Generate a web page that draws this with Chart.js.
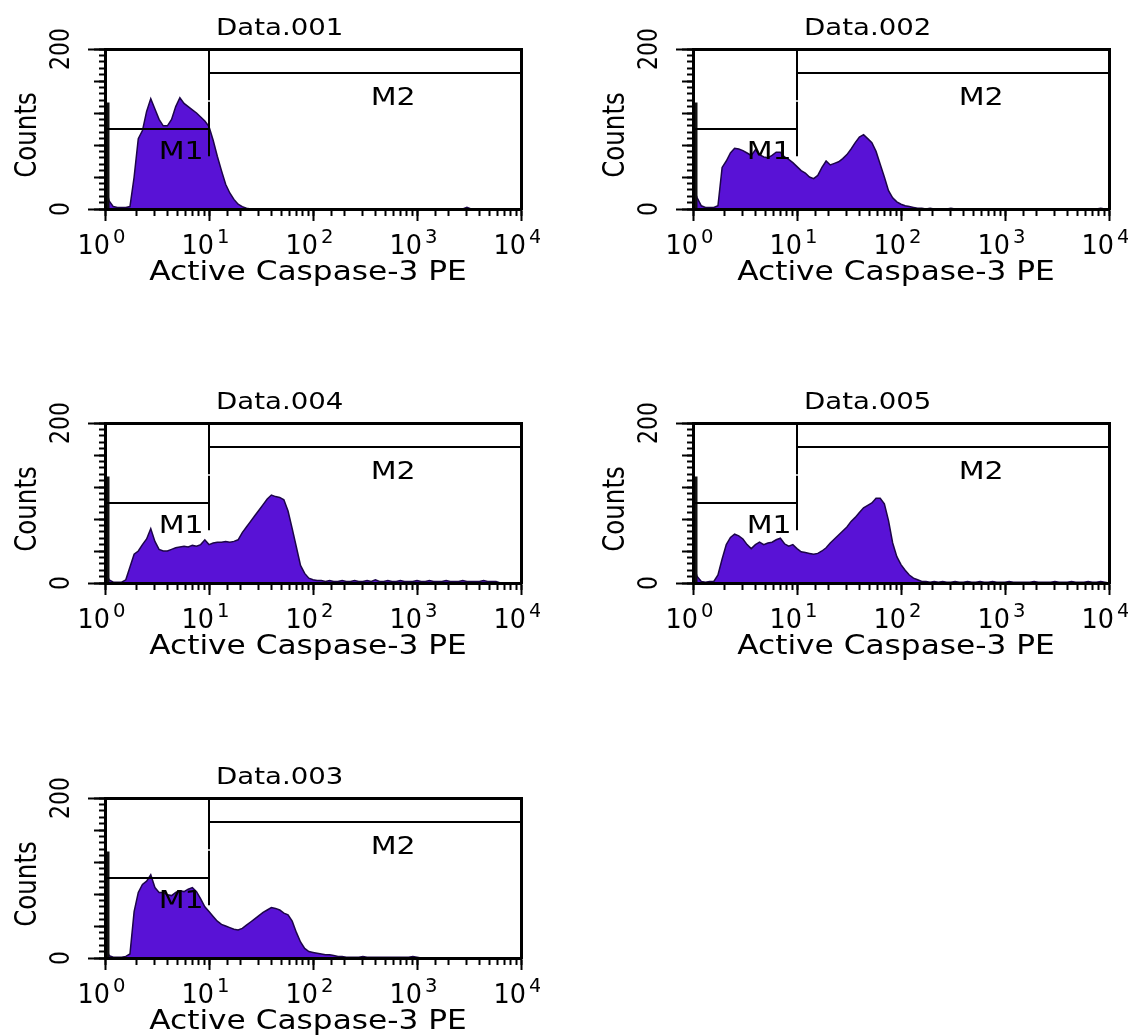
<!DOCTYPE html>
<html>
<head>
<meta charset="utf-8">
<title>Active Caspase-3 PE histograms</title>
<script src="https://cdn.jsdelivr.net/npm/chart.js@4.4.1/dist/chart.umd.min.js"></script>
<style>
  html, body { margin: 0; padding: 0; background: #fff; overflow: hidden; }
  #page { position: relative; width: 1131px; height: 1035px; }
  #page canvas { position: absolute; }
</style>
</head>
<body>
<div id="page">
  <canvas id="c001" width="540" height="300" style="left:0;top:0"></canvas>
  <canvas id="c002" width="540" height="300" style="left:588px;top:0"></canvas>
  <canvas id="c004" width="540" height="300" style="left:0;top:374px"></canvas>
  <canvas id="c005" width="540" height="300" style="left:588px;top:374px"></canvas>
  <canvas id="c003" width="540" height="300" style="left:0;top:749px"></canvas>
</div>
<script>
const FONT = '"DejaVu Sans", Verdana, sans-serif';
// the scanned figure is stretched sideways, so its lettering is wider than tall
const TEXT_STRETCH = 1.2;

// histogram channels: one value every 0.04 decade, from 10^0 to 10^4
const EXP_STEP = 0.04;

const COUNTS_001 = [
  30, 10, 3, 2, 2, 2, 3, 40, 88, 98,
  122, 138, 125, 112, 104, 104, 112, 128, 139, 132,
  128, 124, 120, 115, 110, 103, 86, 66, 48, 31,
  20, 12, 6, 3, 1, 0, 0, 0, 0, 0,
  0, 0, 0, 0, 0, 0, 0, 0, 0, 0,
  0, 0, 0, 0, 0, 0, 0, 0, 0, 0,
  0, 0, 0, 0, 0, 0, 0, 0, 0, 0,
  0, 0, 0, 0, 0, 0, 0, 0, 0, 0,
  0, 0, 0, 0, 0, 0, 0, 2, 0, 0,
  0, 0, 0, 0, 0, 0, 0, 0, 0, 0,
  0];

const COUNTS_002 = [
  28, 14, 4, 2, 2, 2, 4, 52, 60, 70,
  76, 75, 73, 70, 67, 74, 68, 65, 64, 67,
  71, 71, 65, 62, 58, 53, 48, 45, 40, 38,
  42, 52, 60, 55, 57, 59, 63, 68, 75, 83,
  90, 93, 88, 83, 72, 56, 40, 23, 14, 9,
  6, 4, 3, 2, 1, 1, 0, 1, 0, 0,
  0, 0, 1, 0, 0, 0, 0, 0, 0, 0,
  0, 0, 0, 0, 0, 0, 0, 0, 0, 0,
  0, 0, 0, 0, 0, 0, 0, 0, 0, 0,
  0, 0, 0, 0, 0, 0, 0, 0, 1, 0,
  0];

const COUNTS_004 = [
  15, 4, 1, 1, 1, 4, 20, 36, 40, 48,
  55, 68, 52, 42, 40, 40, 42, 44, 45, 46,
  45, 47, 46, 48, 54, 48, 50, 51, 51, 52,
  51, 52, 54, 63, 70, 77, 84, 91, 98, 105,
  110, 108, 107, 104, 90, 68, 45, 22, 12, 6,
  4, 3, 3, 2, 3, 2, 2, 3, 2, 2,
  3, 2, 2, 3, 2, 4, 2, 2, 3, 2,
  2, 3, 2, 2, 2, 3, 2, 2, 3, 2,
  2, 2, 3, 2, 2, 2, 3, 2, 2, 2,
  2, 3, 2, 2, 2, 0, 0, 0, 0, 0,
  0];

const COUNTS_005 = [
  25, 8, 2, 1, 2, 2, 10, 30, 48, 57,
  61, 59, 55, 48, 43, 48, 51, 48, 50, 51,
  54, 56, 49, 46, 48, 43, 39, 38, 37, 36,
  37, 40, 44, 50, 55, 60, 65, 70, 77, 82,
  88, 94, 97, 100, 106, 106, 99, 78, 50, 33,
  23, 16, 10, 6, 4, 2, 2, 1, 2, 1,
  2, 1, 1, 2, 1, 1, 2, 1, 1, 2,
  1, 1, 2, 1, 1, 1, 2, 1, 1, 1,
  1, 1, 2, 1, 1, 1, 1, 2, 1, 1,
  1, 2, 1, 1, 1, 2, 1, 1, 2, 1,
  0];

const COUNTS_003 = [
  15, 3, 1, 1, 1, 2, 5, 58, 82, 92,
  96, 104, 88, 82, 82, 79, 78, 82, 84, 83,
  86, 88, 83, 74, 64, 58, 52, 46, 42, 40,
  38, 36, 35, 37, 41, 45, 49, 53, 57, 60,
  63, 62, 60, 56, 54, 46, 32, 20, 12, 8,
  7, 6, 5, 4, 4, 3, 2, 2, 1, 1,
  1, 1, 2, 1, 1, 1, 1, 1, 1, 1,
  1, 1, 1, 1, 2, 1, 0, 0, 0, 0,
  0, 0, 0, 0, 0, 0, 0, 0, 0, 0,
  0, 0, 0, 0, 0, 0, 0, 0, 0, 0,
  0];

// events piled up in the very first channel (the black spike at 10^0)
const CHANNEL0 = [133, 133, 133, 133, 133];

const PANEL_IDS   = ["c001", "c002", "c004", "c005", "c003"];
const PANEL_NAMES = ["Data.001", "Data.002", "Data.004", "Data.005", "Data.003"];
const PANEL_DATA  = [COUNTS_001, COUNTS_002, COUNTS_004, COUNTS_005, COUNTS_003];

// marker gates
const GATE_NAMES   = ["M1", "M2"];
const GATE_LO      = [1, 10];
const GATE_HI      = [10, 10000];
const GATE_LEVEL   = [100, 170];
const GATE_TICK    = 34;
const GATE_LABEL_X = [5.4, 590];
const GATE_LABEL_Y = [71, 138];

const X_DECADES = [0, 1, 2, 3, 4];
const Y_LABELS  = [0, 200];
const X_TITLE   = "Active Caspase-3 PE";
const Y_TITLE   = "Counts";

const FILL = "#5912d6", EDGE = "#1c0548";

function say(ctx, str, x, y, size, rot = 0, align = "center", baseline = "middle", sx = TEXT_STRETCH) {
  ctx.save();
  ctx.translate(x, y);
  ctx.scale(sx, 1);
  ctx.rotate(rot);
  ctx.font = `${size}px ${FONT}`;
  ctx.textAlign = align; ctx.textBaseline = baseline;
  ctx.fillText(str, 0, 0);
  ctx.restore();
}

const panelText = {
  id: "panelText",
  afterDatasetsDraw(chart) {
    const { ctx, scales: { x, y } } = chart;
    ctx.save();
    ctx.fillStyle = "#000";
    GATE_NAMES.forEach((g, i) => say(ctx, g, x.getPixelForValue(GATE_LABEL_X[i]), y.getPixelForValue(GATE_LABEL_Y[i]), 25));
    ctx.restore();
  },
  afterDraw(chart, args, opts) {
    const { ctx, chartArea: a, scales: { x, y } } = chart;
    const midX = (a.left + a.right) / 2, midY = (a.top + a.bottom) / 2;
    ctx.save();
    ctx.fillStyle = "#000";
    say(ctx, opts.title, a.left + (a.right - a.left) * 0.42, a.top - 20, 23);
    say(ctx, X_TITLE, midX - 5, a.bottom + 64, 26);
    say(ctx, Y_TITLE, a.left - 77, midY + 6, 24.5, -Math.PI / 2);

    X_DECADES.forEach(k => {
      const px = x.getPixelForValue(Math.pow(10, k));
      say(ctx, "10", px + 5, a.bottom + 45, 26, 0, "right", "alphabetic", 0.98);
      say(ctx, String(k), px + 8, a.bottom + 34, 20, 0, "left", "alphabetic", 0.98);
    });
    Y_LABELS.forEach(v => say(ctx, String(v), a.left - 43, y.getPixelForValue(v), 22, -Math.PI / 2));
    ctx.restore();
  },
};

const line = (pts, extra) => ({
  type: "line", data: pts, xAxisID: "x", yAxisID: "y",
  borderColor: "#000", borderWidth: 2, pointRadius: 0, fill: false, clip: 0, order: 1, ...extra,
});

function buildConfig(name, counts, ch0) {
  const hist = counts.map((c, i) => ({ x: Math.pow(10, i * EXP_STEP), y: c }));
  const sets = [];
  GATE_NAMES.forEach((g, i) => {
    const lo = GATE_LO[i], hi = GATE_HI[i], lv = GATE_LEVEL[i];
    sets.push(line([{ x: lo, y: lv }, { x: hi, y: lv }]));
    sets.push(line([{ x: lo, y: lv - GATE_TICK }, { x: lo, y: lv + GATE_TICK }]));
    sets.push(line([{ x: hi, y: lv - GATE_TICK }, { x: hi, y: lv + GATE_TICK }]));
  });
  sets.push(line([{ x: 1, y: 0 }, { x: 1, y: ch0 }], { borderColor: "#111", borderWidth: 9 }));
  sets.push(line(hist, { borderColor: EDGE, borderWidth: 1.5, backgroundColor: FILL, fill: "origin", tension: 0, order: 2 }));

  const tick = (len) => ({ drawOnChartArea: false, tickLength: len, tickWidth: 2, tickColor: "#000", color: "#000" });
  const frame = { color: "#000", width: 3, z: 1 };
  const logAxis = { type: "logarithmic", min: 1, max: 10000, ticks: { display: false } };
  const linAxis = { type: "linear", min: 0, max: 200 };

  return {
    type: "line",
    data: { datasets: sets },
    plugins: [panelText],
    options: {
      responsive: false, animation: false, events: [],
      layout: { padding: { left: 15, top: 49, right: 19, bottom: 11 } },
      plugins: { legend: { display: false }, tooltip: { enabled: false }, panelText: { title: name } },
      scales: {
        x: {
          ...logAxis, position: "bottom", weight: 10,
          afterBuildTicks: s => { s.ticks = X_DECADES.map(k => ({ value: Math.pow(10, k) })); },
          afterFit: s => { s.height = 80; },
          grid: tick(12), border: frame,
        },
        xMinor: {
          ...logAxis, position: "bottom", weight: 0,
          afterFit: s => { s.height = 0; },
          grid: tick(7), border: { display: false },
        },
        xTop: {
          ...logAxis, position: "top",
          afterFit: s => { s.height = 0; },
          grid: { display: false }, border: frame,
        },
        y: {
          ...linAxis, position: "left", weight: 10, ticks: { display: false },
          afterBuildTicks: s => { s.ticks = Y_LABELS.map(v => ({ value: v })); },
          afterFit: s => { s.width = 90; },
          grid: tick(17), border: frame,
        },
        yMid: {
          ...linAxis, position: "left", weight: 5, ticks: { display: false, stepSize: 40 },
          afterFit: s => { s.width = 0; },
          grid: tick(11), border: { display: false },
        },
        yMinor: {
          ...linAxis, position: "left", weight: 0, ticks: { display: false, stepSize: 8 },
          afterFit: s => { s.width = 0; },
          grid: tick(6), border: { display: false },
        },
        yRight: {
          ...linAxis, position: "right", ticks: { display: false },
          afterFit: s => { s.width = 0; },
          grid: { display: false }, border: frame,
        },
      },
    },
  };
}

PANEL_IDS.forEach((id, i) => {
  new Chart(document.getElementById(id), buildConfig(PANEL_NAMES[i], PANEL_DATA[i], CHANNEL0[i]));
});
</script>
</body>
</html>
